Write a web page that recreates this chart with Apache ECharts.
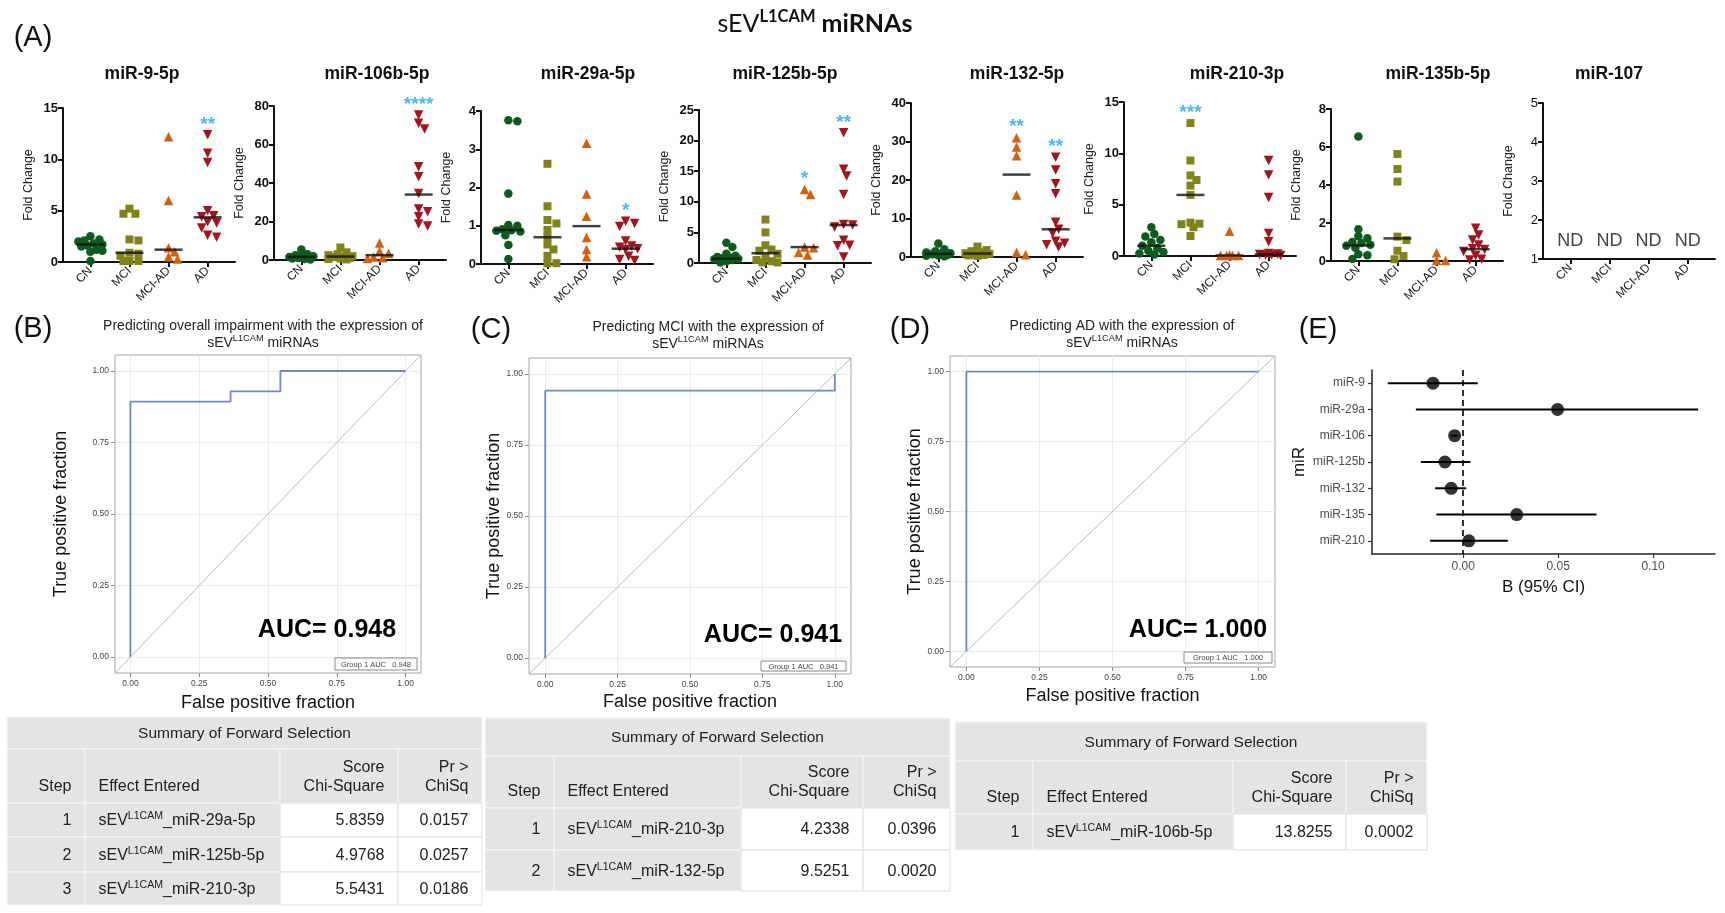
<!DOCTYPE html>
<html><head><meta charset="utf-8">
<script src="https://cdn.jsdelivr.net/npm/echarts@6/dist/echarts.min.js"></script>
<style>html,body{margin:0;padding:0;background:#fff}#c{width:1725px;height:913px}</style>
</head><body><div id="c"></div>
<script>
// ================= DATA =================
const groups = ['CN', 'MCI', 'MCI-AD', 'AD'];
const panelNames = ['miR-9-5p', 'miR-106b-5p', 'miR-29a-5p', 'miR-125b-5p', 'miR-132-5p', 'miR-210-3p', 'miR-135b-5p', 'miR-107'];

const mir9 = [
  [2.5, 2.2, 2.1, 2.0, 1.8, 1.7, 1.6, 1.5, 1.2, 1.1, 1.0, 0.1],
  [5.2, 4.7, 4.7, 2.2, 2.1, 0.9, 0.8, 0.6, 0.1, 0.1, 0.1],
  [12.2, 6.0, 1.4, 1.0, 0.5, 0.3],
  [12.4, 10.6, 9.7, 5.0, 4.5, 4.4, 3.9, 3.8, 3.3, 2.6, 2.4]
];
const mir106b = [
  [5.5, 3.0, 2.5, 2.0, 2.0, 1.5, 1.2, 1.0, 0.8, 0.5, 0.3],
  [6.5, 4.0, 3.0, 2.5, 2.0, 1.8, 1.5, 1.0, 0.8, 0.5, 0.3],
  [8.8, 4.5, 3.5, 1.5, 1.2, 0.8],
  [75.3, 71.0, 68.0, 48.5, 43.3, 34.6, 26.5, 25.1, 22.5, 18.7, 17.7]
];
const mir29a = [
  [3.76, 3.73, 1.84, 1.02, 1.0, 0.91, 0.88, 0.87, 0.85, 0.75, 0.5, 0.13],
  [2.62, 1.51, 1.15, 1.06, 0.89, 0.7, 0.51, 0.38, 0.21, 0.02, 0.02],
  [3.16, 1.83, 1.25, 0.69, 0.38, 0.19],
  [1.12, 1.06, 0.98, 0.6, 0.47, 0.44, 0.4, 0.38, 0.2, 0.12, 0.09]
];
const mir125b = [
  [3.3, 2.6, 1.5, 1.2, 1.0, 0.9, 0.8, 0.7, 0.6, 0.5, 0.3, 0.1],
  [7.1, 5.0, 2.9, 2.2, 2.0, 1.5, 0.9, 0.5, 0.3, 0.1, 0.1],
  [12.0, 11.2, 2.6, 2.5, 1.7, 1.3],
  [21.3, 15.3, 14.2, 11.2, 6.3, 6.2, 5.9, 3.7, 2.9, 2.8, 1.0]
];
const mir132 = [
  [3.5, 2.0, 1.5, 1.2, 1.0, 0.9, 0.7, 0.5, 0.4, 0.3, 0.2],
  [2.7, 1.8, 1.5, 1.2, 1.0, 0.8, 0.6, 0.5, 0.4, 0.3],
  [31.0, 28.6, 26.3, 16.1, 1.2, 0.6],
  [25.9, 22.6, 19.0, 16.4, 9.0, 7.2, 6.2, 4.1, 3.6, 3.2, 2.6]
];
const mir210 = [
  [2.8, 2.15, 1.9, 1.55, 1.35, 1.0, 0.75, 0.5, 0.4, 0.25, 0.15],
  [12.95, 9.3, 7.85, 7.4, 6.85, 5.95, 3.25, 3.15, 3.1, 2.8, 1.95],
  [2.4, 0.1, 0.05, 0.05, 0.05, 0.05],
  [9.3, 7.9, 5.7, 2.2, 1.4, 0.25, 0.2, 0.15, 0.1, 0.1, 0.05]
];
const mir135b = [
  [6.55, 1.67, 1.3, 1.2, 1.0, 0.95, 0.85, 0.8, 0.7, 0.35, 0.3, 0.1],
  [5.63, 4.84, 4.18, 1.28, 1.1, 0.54, 0.26, 0.09],
  [0.44, 0.02, 0.02],
  [1.72, 1.37, 1.1, 0.84, 0.65, 0.6, 0.5, 0.28, 0.09, 0.05]
];
const mir107 = [[], [], [], []];
const panelData = [mir9, mir106b, mir29a, mir125b, mir132, mir210, mir135b, mir107];

const panelMedians = [
  [1.7, 0.9, 1.2, 4.35],
  [1.6, 1.8, 2.5, 34.0],
  [0.89, 0.7, 0.99, 0.4],
  [0.7, 1.6, 2.6, 6.2],
  [0.8, 0.9, 21.4, 7.2],
  [1.0, 5.95, 0.05, 0.15],
  [0.82, 1.19, null, 0.62],
  [null, null, null, null]
];
const panelStars = [
  ['', '', '', '**'],
  ['', '', '', '****'],
  ['', '', '', '*'],
  ['', '', '*', '**'],
  ['', '', '**', '**'],
  ['', '***', '', ''],
  ['', '', '', ''],
  ['', '', '', '']
];
const panelND = [false, false, false, false, false, false, false, true];
const ndText = 'ND';
const ndLevel = 1.45;

const yMinArr = [0, 0, 0, 0, 0, 0, 0, 1];
const yMaxArr = [15, 80, 4, 25, 40, 15, 8, 5];
const yStepArr = [5, 20, 1, 5, 10, 5, 2, 1];

// ROC
const rocTicks = [0, 0.25, 0.5, 0.75, 1];
const rocB_fpr = [0, 0, 0.364, 0.364, 0.545, 0.545, 1];
const rocB_tpr = [0, 0.893, 0.893, 0.929, 0.929, 1, 1];
const rocC_fpr = [0, 0, 1, 1];
const rocC_tpr = [0, 0.941, 0.941, 1];
const rocD_fpr = [0, 0, 1];
const rocD_tpr = [0, 1, 1];
const rocAUC = ['0.948', '0.941', '1.000'];
const rocTitles = ['Predicting overall impairment with the expression of', 'Predicting MCI with the expression of', 'Predicting AD with the expression of'];

// Forest
const forestLabels = ['miR-9', 'miR-29a', 'miR-106', 'miR-125b', 'miR-132', 'miR-135', 'miR-210'];
const forestB = [-0.0159, 0.0497, -0.0045, -0.0096, -0.0063, 0.0282, 0.0030];
const forestLo = [-0.0397, -0.0249, -0.0063, -0.0223, -0.0148, -0.0141, -0.0174];
const forestHi = [0.0077, 0.1237, -0.0028, 0.0038, 0.0016, 0.0702, 0.0235];
const forestTicks = [0, 0.05, 0.10];

// Tables
const tabTitle = 'Summary of Forward Selection';
const tabHead = ['Step', 'Effect Entered', 'Score', 'Chi-Square', 'Pr >', 'ChiSq'];
const tabB_step = ['1', '2', '3'];
const tabB_effect = ['_miR-29a-5p', '_miR-125b-5p', '_miR-210-3p'];
const tabB_chi = ['5.8359', '4.9768', '5.5431'];
const tabB_p = ['0.0157', '0.0257', '0.0186'];
const tabC_step = ['1', '2'];
const tabC_effect = ['_miR-210-3p', '_miR-132-5p'];
const tabC_chi = ['4.2338', '9.5251'];
const tabC_p = ['0.0396', '0.0020'];
const tabD_step = ['1'];
const tabD_effect = ['_miR-106b-5p'];
const tabD_chi = ['13.8255'];
const tabD_p = ['0.0002'];

// ================= LAYOUT / STYLE =================
const FONT = 'Arial, "Liberation Sans", Helvetica, sans-serif';
const SC_LEFT = [63, 274, 481, 699, 911, 1124, 1331, 1543];
const SC_TOP = [108, 106, 111, 110, 103, 102, 109, 103];
const SC_BOT = [262, 260, 264, 263, 257, 256, 261, 259];
const SC_W = 172, X_MIN = -0.7, X_MAX = 3.7;
const TITLE_X = [142, 377, 588, 785, 1017, 1237, 1438, 1609];
const SYM = ['circle', 'rect', 'triangle', 'triangle'];
const SYM_ROT = [0, 0, 0, 180];
const SYM_SIZE = [8.5, 8, 9.5, 9.5];
const COLORS = ['#0d5c1d', '#82821b', '#d4600f', '#a3141e'];
const STAR_COLOR = '#21a6ee';

const ROC_BOX = [[115, 355, 421, 673], [529, 358, 851, 674], [950, 356, 1275, 667]];
const ROC_YGAP = [45, 24, 25];
const ROC_XGAP = [21, 19, 20];
const ROC_TITLE = [[263, 326], [708, 327], [1122, 326]];
const ROC_AUCPOS = [[327, 630], [773, 635], [1198, 630]];
const ROC_LEG = [[335, 658, 417, 670], [761, 661, 846, 671], [1184, 652, 1272, 663]];
const R_MIN = -0.056, R_MAX = 1.056;

const ctx = document.createElement('canvas').getContext('2d');
function measure(t, size, weight, family) { ctx.font = weight + ' ' + size + 'px ' + family; return ctx.measureText(t).width; }
function T(x, y, text, o) {
  o = o || {};
  const al = o.align || 'left', va = o.va || 'middle';
  return { type: 'text', x: x, y: y, silent: true, z: o.z || 10,
    style: { text: text, font: (o.weight || 'normal') + ' ' + (o.size || 14) + 'px ' + (o.family || FONT),
      fill: o.color || '#111', align: al, verticalAlign: va, textAlign: al, textVerticalAlign: va } };
}
function supLine(x, y, parts, align, size, family, color) {
  const supSize = size * 0.66;
  const ws = parts.map(p => measure(p[0], p[1] ? supSize : size, p[2] || 'normal', family));
  const tot = ws.reduce((a, b) => a + b, 0);
  let cx = align === 'center' ? x - tot / 2 : align === 'right' ? x - tot : x;
  return parts.map((p, i) => {
    const el = T(cx, p[1] ? y - size * 0.3 : y, p[0], { size: p[1] ? supSize : size, weight: p[2] || 'normal', family: family, color: color });
    cx += ws[i];
    return el;
  });
}
// deterministic beeswarm layout (horizontal spread limited, overlap allowed)
function swarm(vals, g, pxX, pxY, ymin) {
  const sorted = vals.slice().sort((a, b) => b - a);
  const placed = [], out = [];
  const D = 7, STEP = 3, MAXOFF = 13;
  const cands = [0];
  for (let s = STEP; s <= MAXOFF; s += STEP) { cands.push(s); cands.push(-s); }
  sorted.forEach(v => {
    const py = (v - ymin) * pxY;
    let best = null, bestScore = -1, bestOff = 0;
    for (const off of cands) {
      const md = placed.reduce((m, p) => Math.min(m, Math.hypot(p[0] - off, p[1] - py)), Infinity);
      if (md >= D) { best = off; break; }
      if (md > bestScore) { bestScore = md; bestOff = off; }
    }
    if (best === null) best = bestOff;
    placed.push([best, py]);
    out.push([g + best / pxX, v]);
  });
  return out;
}

const grids = [], xAxes = [], yAxes = [], series = [], elements = [];

// ================= PANEL A =================
panelData.forEach((pd, i) => {
  const h = SC_BOT[i] - SC_TOP[i];
  grids.push({ left: SC_LEFT[i], top: SC_TOP[i], width: SC_W, height: h, outerBoundsMode: 'none' });
  xAxes.push({ gridIndex: i, type: 'value', min: X_MIN, max: X_MAX,
    axisLine: { show: true, onZero: false, lineStyle: { color: '#111', width: 2 } },
    axisTick: { show: true, customValues: [0, 1, 2, 3], length: 5, lineStyle: { color: '#111', width: 2 } },
    axisLabel: { customValues: [0, 1, 2, 3], formatter: v => groups[Math.round(v)], rotate: 45, fontSize: 12, color: '#222', margin: 7, fontFamily: FONT },
    splitLine: { show: false } });
  yAxes.push({ gridIndex: i, type: 'value', min: yMinArr[i], max: yMaxArr[i], interval: yStepArr[i],
    axisLine: { show: true, onZero: false, lineStyle: { color: '#111', width: 2 } },
    axisTick: { show: true, length: 5, lineStyle: { color: '#111', width: 2 } },
    axisLabel: { fontSize: 13, fontWeight: i === 7 ? 'normal' : 'bold', color: '#111', margin: 5, fontFamily: FONT },
    splitLine: { show: false },
    name: 'Fold Change', nameLocation: 'middle', nameGap: 28, nameTextStyle: { fontSize: 12.5, color: '#222', fontFamily: FONT } });
  const pxX = SC_W / (X_MAX - X_MIN), pxY = h / (yMaxArr[i] - yMinArr[i]);
  pd.forEach((vals, g) => {
    if (!vals.length) return;
    series.push({ type: 'scatter', xAxisIndex: i, yAxisIndex: i, clip: false, silent: true,
      symbol: SYM[g], symbolRotate: SYM_ROT[g], symbolSize: SYM_SIZE[g],
      itemStyle: { color: COLORS[g], opacity: 1 }, z: 3,
      data: swarm(vals, g, pxX, pxY, yMinArr[i]) });
  });
  const med = [];
  panelMedians[i].forEach((m, g) => { if (m !== null) med.push([g, m]); });
  if (med.length) series.push({ type: 'scatter', xAxisIndex: i, yAxisIndex: i, clip: false, silent: true,
    symbol: 'rect', symbolSize: [28, 2.5], itemStyle: { color: '#111' }, z: 4, data: med });
  const st = [];
  panelStars[i].forEach((s, g) => {
    if (s) {
      const mx = Math.max.apply(null, pd[g]);
      st.push({ value: [g, mx + 0.1 * (yMaxArr[i] - yMinArr[i])], name: s });
    }
  });
  if (st.length) series.push({ type: 'scatter', xAxisIndex: i, yAxisIndex: i, clip: false, silent: true,
    symbolSize: 1, itemStyle: { color: 'rgba(0,0,0,0)' }, z: 5,
    label: { show: true, position: 'inside', formatter: '{b}', color: STAR_COLOR, fontSize: 19, fontWeight: 'bold', fontFamily: FONT, offset: [0, 5] },
    data: st });
  if (panelND[i]) series.push({ type: 'scatter', xAxisIndex: i, yAxisIndex: i, clip: false, silent: true,
    symbolSize: 1, itemStyle: { color: 'rgba(0,0,0,0)' },
    label: { show: true, position: 'inside', formatter: '{b}', color: '#111', fontSize: 18, fontFamily: FONT },
    data: groups.map((g, k) => ({ value: [k, ndLevel], name: ndText })) });
  elements.push(T(TITLE_X[i], 74, panelNames[i], { size: 17.5, weight: 'bold', align: 'center' }));
});

// ================= ROC PANELS =================
const rocData = [[rocB_fpr, rocB_tpr], [rocC_fpr, rocC_tpr], [rocD_fpr, rocD_tpr]];
rocData.forEach((rd, k) => {
  const gi = 8 + k, b = ROC_BOX[k];
  grids.push({ left: b[0], top: b[1], width: b[2] - b[0], height: b[3] - b[1], show: true, borderColor: '#a5a5a5', borderWidth: 1, backgroundColor: '#fff', outerBoundsMode: 'none' });
  const common = { type: 'value', min: R_MIN, max: R_MAX,
    axisLine: { show: false, onZero: false },
    axisTick: { show: true, customValues: rocTicks, length: 4, lineStyle: { color: '#888' } },
    axisLabel: { customValues: rocTicks, formatter: v => v.toFixed(2), fontSize: 8.5, color: '#444', margin: 6, fontFamily: FONT },
    splitLine: { show: false }, nameLocation: 'middle', nameTextStyle: { fontSize: 18, color: '#111', fontFamily: FONT } };
  xAxes.push(Object.assign({ gridIndex: gi, name: 'False positive fraction', nameGap: ROC_XGAP[k] }, common));
  yAxes.push(Object.assign({ gridIndex: gi, name: 'True positive fraction', nameGap: ROC_YGAP[k] }, common));
  series.push({ type: 'line', xAxisIndex: gi, yAxisIndex: gi, silent: true, symbol: 'none', z: 2,
    lineStyle: { color: '#bcbcbc', width: 1 }, data: [[R_MIN, R_MIN], [R_MAX, R_MAX]],
    markLine: { silent: true, symbol: ['none', 'none'], z: 1, animation: false, label: { show: false },
      lineStyle: { color: '#ebebeb', type: 'solid', width: 1 },
      data: rocTicks.map(v => ({ xAxis: v })).concat(rocTicks.map(v => ({ yAxis: v }))) } });
  series.push({ type: 'line', xAxisIndex: gi, yAxisIndex: gi, silent: true, symbol: 'none', z: 3,
    lineStyle: { color: '#6f88c6', width: 1.8 }, data: rd[0].map((x, j) => [x, rd[1][j]]) });
  const tp = ROC_TITLE[k];
  elements.push(T(tp[0], tp[1], rocTitles[k], { size: 14, align: 'center', color: '#222' }));
  supLine(tp[0], tp[1] + 17, [['sEV', false], ['L1CAM', true], [' miRNAs', false]], 'center', 14, FONT, '#222').forEach(e => elements.push(e));
  const ap = ROC_AUCPOS[k];
  elements.push(T(ap[0], ap[1], 'AUC= ' + rocAUC[k], { size: 25, weight: 'bold', align: 'center', color: '#000' }));
  const lg = ROC_LEG[k];
  elements.push({ type: 'rect', silent: true, z: 10, shape: { x: lg[0], y: lg[1], width: lg[2] - lg[0], height: lg[3] - lg[1] }, style: { fill: '#fff', stroke: '#888', lineWidth: 1 } });
  elements.push(T((lg[0] + lg[2]) / 2, (lg[1] + lg[3]) / 2 + 0.5, 'Group 1 AUC   ' + rocAUC[k], { size: 7.5, align: 'center', color: '#444', z: 11 }));
});

// ================= FOREST (E) =================
grids.push({ left: 1372, top: 370, width: 343, height: 184, outerBoundsMode: 'none' });
xAxes.push({ gridIndex: 11, type: 'value', min: -0.048, max: 0.1326,
  axisLine: { show: true, onZero: false, lineStyle: { color: '#222', width: 1.5 } },
  axisTick: { show: true, customValues: forestTicks, length: 4, lineStyle: { color: '#333', width: 1.2 } },
  axisLabel: { customValues: forestTicks, formatter: v => v.toFixed(2), fontSize: 12, color: '#4d4d4d', margin: 7, fontFamily: FONT },
  splitLine: { show: false }, name: 'B (95% CI)', nameLocation: 'middle', nameGap: 25, nameTextStyle: { fontSize: 17, color: '#111', fontFamily: FONT } });
yAxes.push({ gridIndex: 11, type: 'category', data: forestLabels, inverse: true,
  axisLine: { show: true, onZero: false, lineStyle: { color: '#222', width: 1.5 } },
  axisTick: { show: true, alignWithLabel: true, length: 4, lineStyle: { color: '#333', width: 1.2 } },
  axisLabel: { fontSize: 12, color: '#4d4d4d', margin: 7, fontFamily: FONT },
  name: 'miR', nameLocation: 'middle', nameGap: 64, nameTextStyle: { fontSize: 17, color: '#111', fontFamily: FONT } });
series.push({ type: 'custom', xAxisIndex: 11, yAxisIndex: 11, silent: true, z: 3,
  renderItem: (params, api) => {
    const a = api.coord([api.value(0), api.value(2)]);
    const c = api.coord([api.value(1), api.value(2)]);
    return { type: 'line', shape: { x1: a[0], y1: a[1], x2: c[0], y2: c[1] }, style: { stroke: '#000', lineWidth: 2 } };
  },
  encode: { x: [0, 1], y: 2 },
  data: forestLo.map((l, i) => [l, forestHi[i], forestLabels[i]]) });
series.push({ type: 'scatter', xAxisIndex: 11, yAxisIndex: 11, silent: true, z: 4, symbolSize: 13,
  itemStyle: { color: '#000' }, data: forestB.map((v, i) => [v, forestLabels[i]]),
  markLine: { silent: true, symbol: ['none', 'none'], animation: false, label: { show: false },
    lineStyle: { color: '#000', type: [6, 4], width: 1.6 }, data: [{ xAxis: 0 }] } });

// ================= TEXT LABELS =================
supLine(815, 24, [['sEV', false, 'normal'], ['L1CAM', true, 'bold'], [' miRNAs', false, 'bold']], 'center', 25, 'Lato, "Open Sans", sans-serif', '#111').forEach(e => elements.push(e));
[['(A)', 33, 38], ['(B)', 33, 329], ['(C)', 491, 330], ['(D)', 910, 330], ['(E)', 1318, 330]].forEach(p => elements.push(T(p[1], p[2], p[0], { size: 29, align: 'center', color: '#111' })));

// ================= TABLES =================
function drawTable(cols, rows, steps, effects, chis, ps) {
  const x0 = cols[0], x1 = cols[4];
  const GRAY = '#e4e4e4';
  const rect = (x, y, w, h, fill, stroke) => elements.push({ type: 'rect', silent: true, z: 5, shape: { x: x, y: y, width: w, height: h }, style: { fill: fill, stroke: stroke, lineWidth: 1 } });
  rect(x0, rows[0], x1 - x0, rows[1] - rows[0], GRAY, '#f7f7f7');
  for (let c = 0; c < 4; c++) rect(cols[c], rows[1], cols[c + 1] - cols[c], rows[2] - rows[1], GRAY, '#f7f7f7');
  for (let r = 0; r < steps.length; r++) {
    for (let c = 0; c < 4; c++) rect(cols[c], rows[2 + r], cols[c + 1] - cols[c], rows[3 + r] - rows[2 + r], c < 2 ? GRAY : '#ffffff', c < 2 ? '#f7f7f7' : '#dedede');
  }
  const P = 13.5, S = 16;
  elements.push(T((x0 + x1) / 2, (rows[0] + rows[1]) / 2 + 1, tabTitle, { size: 15.5, align: 'center', color: '#222', z: 12 }));
  const hb = rows[2];
  elements.push(T(cols[1] - P, hb - 16, tabHead[0], { size: S, align: 'right', color: '#222', z: 12 }));
  elements.push(T(cols[1] + P, hb - 16, tabHead[1], { size: S, align: 'left', color: '#222', z: 12 }));
  elements.push(T(cols[3] - P, hb - 35, tabHead[2], { size: S, align: 'right', color: '#222', z: 12 }));
  elements.push(T(cols[3] - P, hb - 16, tabHead[3], { size: S, align: 'right', color: '#222', z: 12 }));
  elements.push(T(cols[4] - P, hb - 35, tabHead[4], { size: S, align: 'right', color: '#222', z: 12 }));
  elements.push(T(cols[4] - P, hb - 16, tabHead[5], { size: S, align: 'right', color: '#222', z: 12 }));
  steps.forEach((s, r) => {
    const cy = (rows[2 + r] + rows[3 + r]) / 2 + 1;
    elements.push(T(cols[1] - P, cy, s, { size: S, align: 'right', color: '#222', z: 12 }));
    supLine(cols[1] + P, cy, [['sEV', false], ['L1CAM', true], [effects[r], false]], 'left', S, FONT, '#222').forEach(e => { e.z = 12; elements.push(e); });
    elements.push(T(cols[3] - P, cy, chis[r], { size: S, align: 'right', color: '#222', z: 12 }));
    elements.push(T(cols[4] - P, cy, ps[r], { size: S, align: 'right', color: '#222', z: 12 }));
  });
}
drawTable([7, 85, 280, 398, 482], [717, 749, 803, 837, 872, 905], tabB_step, tabB_effect, tabB_chi, tabB_p);
drawTable([485, 554, 741, 863, 950], [718, 756, 808, 850, 891], tabC_step, tabC_effect, tabC_chi, tabC_p);
drawTable([955, 1033, 1233, 1346, 1427], [722, 761, 814, 850], tabD_step, tabD_effect, tabD_chi, tabD_p);

const chart = echarts.init(document.getElementById('c'), null, { renderer: 'canvas', width: 1725, height: 913 });
chart.setOption({
  backgroundColor: '#ffffff',
  animation: false,
  textStyle: { fontFamily: FONT },
  grid: grids, xAxis: xAxes, yAxis: yAxes, series: series,
  graphic: { elements: elements }
});
</script></body></html>
